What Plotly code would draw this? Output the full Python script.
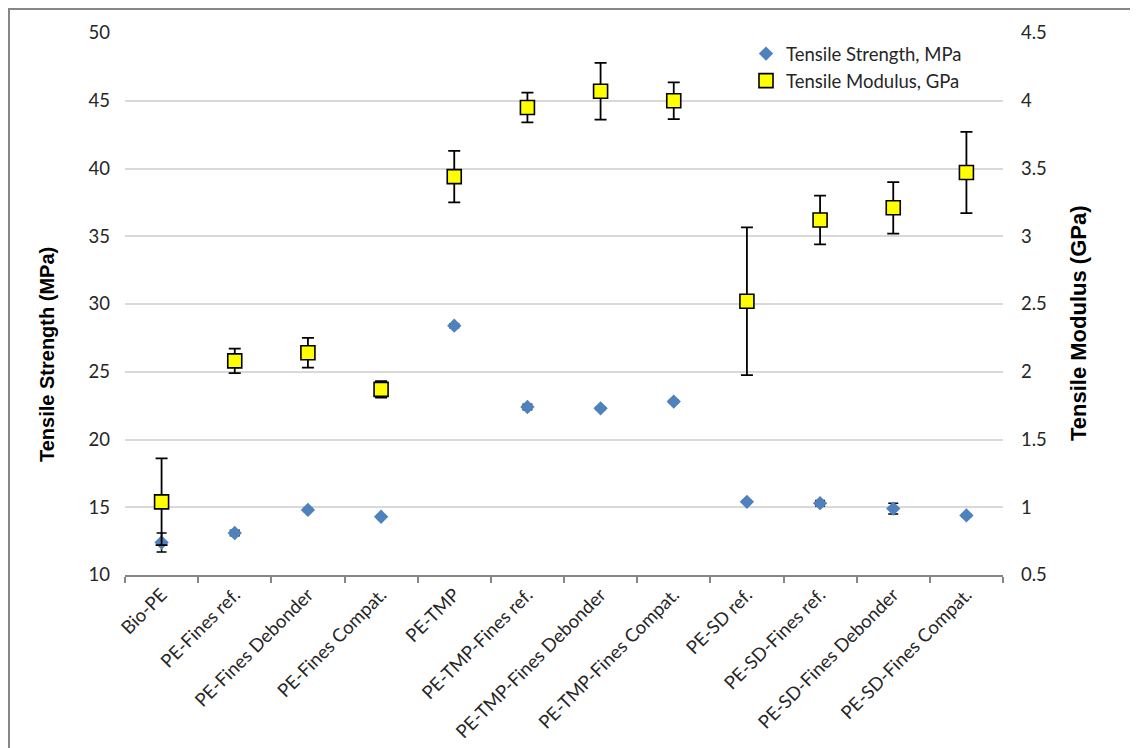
import plotly.graph_objects as go

categories = ["Bio-PE", "PE-Fines ref.", "PE-Fines Debonder", "PE-Fines Compat.",
              "PE-TMP", "PE-TMP-Fines ref.", "PE-TMP-Fines Debonder", "PE-TMP-Fines Compat.",
              "PE-SD ref.", "PE-SD-Fines ref.", "PE-SD-Fines Debonder", "PE-SD-Fines Compat."]
strength = [12.4, 13.1, 14.8, 14.3, 28.4, 22.4, 22.3, 22.8, 15.4, 15.3, 14.9, 14.4]
strength_err = [0.7, 0.2, 0.1, 0.1, 0.15, 0.2, 0.1, 0.1, 0.1, 0.2, 0.4, 0.1]
modulus = [1.04, 2.08, 2.14, 1.87, 3.44, 3.95, 4.07, 4.00, 2.52, 3.12, 3.21, 3.47]
modulus_err = [0.32, 0.09, 0.11, 0.06, 0.19, 0.11, 0.21, 0.135, 0.545, 0.18, 0.19, 0.30]

# page body has an 8px margin; figure coordinates are screen coordinates minus 8
OFF = 8
W, H = 1138 - OFF, 748 - OFF
L, R, T, B = 125 - OFF, 1003 - OFF, 33 - OFF, 575 - OFF

def px(x):
    return (x - OFF - L) / (R - L)

def py(y):
    return (B - (y - OFF)) / (B - T)

tick_font = dict(family="Lato, Open Sans, sans-serif", size=18.5, color="#262626")

fig = go.Figure()
fig.add_trace(go.Scatter(
    x=categories, y=strength, mode="markers", name="Tensile Strength, MPa",
    marker=dict(symbol="diamond", size=11, color="#4F81BD"),
    error_y=dict(type="data", array=strength_err, color="black", thickness=1.5, width=5),
))
fig.add_trace(go.Scatter(
    x=categories, y=modulus, mode="markers", name="Tensile Modulus, GPa", yaxis="y2",
    marker=dict(symbol="square", size=14, color="#FFFF00", line=dict(color="black", width=1.6)),
    error_y=dict(type="data", array=modulus_err, color="black", thickness=1.8, width=6),
))

fig.update_layout(
    width=W, height=H,
    margin=dict(l=L, r=W - R, t=T, b=H - B, pad=0, autoexpand=False),
    paper_bgcolor="white", plot_bgcolor="white",
    showlegend=True,
    legend=dict(x=px(746), y=py(35), xanchor="left", yanchor="top",
                font=dict(family="Lato, Open Sans, sans-serif", size=18.5, color="#262626"),
                bgcolor="rgba(0,0,0,0)", itemwidth=30, tracegroupgap=0),
    xaxis=dict(type="category", range=[-0.5, 11.5], showline=True, linecolor="#868686", linewidth=1.5,
               ticks="outside", tickson="boundaries", ticklen=6, tickcolor="#868686", tickwidth=1.5,
               tickangle=-45, tickfont=tick_font, showgrid=False, zeroline=False, automargin=False),
    yaxis=dict(range=[10, 50], dtick=5, tick0=10, showgrid=True, gridcolor="#D9D9D9", gridwidth=1.5,
               showline=False, zeroline=False, ticks="", ticklabelstandoff=14, tickfont=tick_font,
               automargin=False),
    yaxis2=dict(range=[0.5, 4.5], dtick=0.5, tick0=0.5, overlaying="y", side="right", showgrid=False,
                showline=False, zeroline=False, ticks="", ticklabelstandoff=17, tickfont=tick_font,
                automargin=False),
    annotations=[
        dict(text="<b>Tensile Strength (MPa)</b>", textangle=-90, xref="paper", yref="paper",
             x=px(47), y=py(355), showarrow=False, xanchor="center", yanchor="middle",
             font=dict(family="Liberation Sans, Arial, sans-serif", size=20, color="black")),
        dict(text="<b>Tensile Modulus (GPa)</b>", textangle=-90, xref="paper", yref="paper",
             x=px(1078), y=py(323), showarrow=False, xanchor="center", yanchor="middle",
             font=dict(family="Liberation Sans, Arial, sans-serif", size=22, color="black")),
    ],
    shapes=[dict(type="rect", xref="paper", yref="paper", x0=px(9), x1=px(1170), y0=py(790), y1=py(9),
                 line=dict(color="#868686", width=2), fillcolor="rgba(0,0,0,0)", layer="below")],
)

fig.write_html("out.html")
